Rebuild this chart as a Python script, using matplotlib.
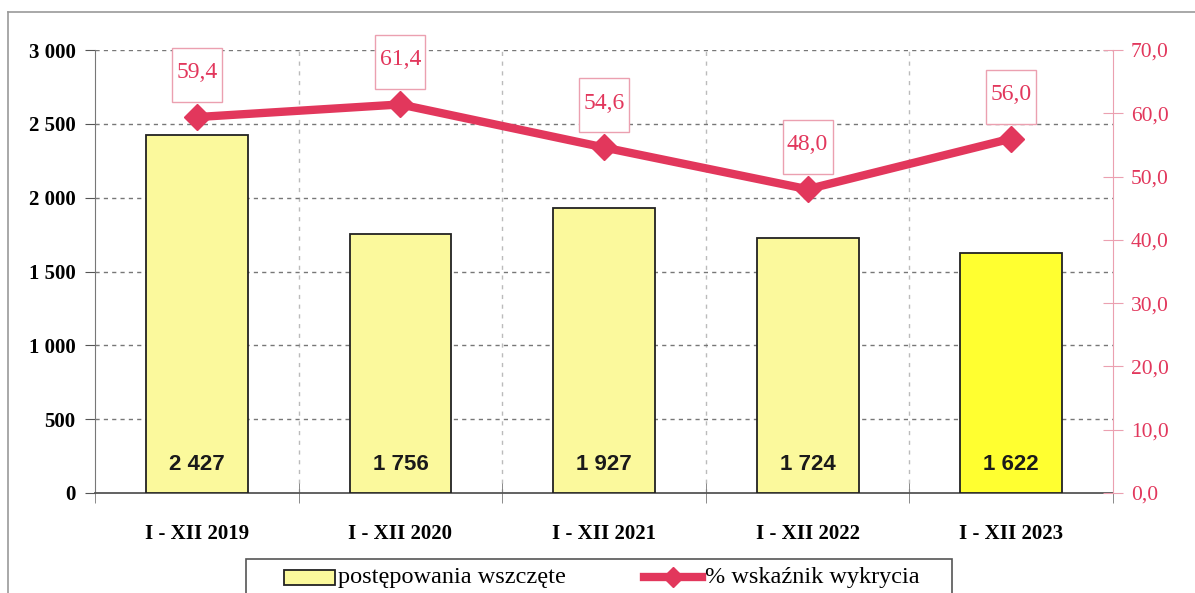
import matplotlib
matplotlib.use("Agg")
import matplotlib.pyplot as plt
from matplotlib.lines import Line2D
from matplotlib.patches import Rectangle
from matplotlib.transforms import ScaledTranslation
import numpy as np

categories = ["I - XII 2019", "I - XII 2020", "I - XII 2021", "I - XII 2022", "I - XII 2023"]
cases = [2427, 1756, 1927, 1724, 1622]
case_labels = ["2 427", "1 756", "1 927", "1 724", "1 622"]
detection = [59.4, 61.4, 54.6, 48.0, 56.0]
left_ticks = [0, 500, 1000, 1500, 2000, 2500, 3000]
left_labels = ["0", "500", "1 000", "1 500", "2 000", "2 500", "3 000"]
right_ticks = [0, 10, 20, 30, 40, 50, 60, 70]
legend_labels = ["postępowania wszczęte", "% wskaźnik wykrycia"]

RED = "#E2375C"
PINK = "#EBA0B0"
LIGHT_Y = "#FBF99C"
BRIGHT_Y = "#FFFF30"
SERIF = "Liberation Serif"
W, H = 1195, 593

fig = plt.figure(figsize=(W/100, H/100), dpi=100)
ax = fig.add_axes([95/W, 1-493/H, (1113-95)/W, (493-50)/H])
ax2 = ax.twinx()

x = np.arange(len(categories))
colors = [LIGHT_Y]*4 + [BRIGHT_Y]
ax.bar(x, cases, width=0.5, color=colors, edgecolor="#222222", linewidth=1.3, zorder=3)
for xi, lab in zip(x, case_labels):
    ax.text(xi, 190, lab, ha="center", va="center", fontsize=16, fontweight="bold",
            family="Liberation Sans", color="#1a1a1a", zorder=4)

ax.set_xlim(-0.5, len(categories)-0.5)
ax.set_ylim(0, 3000)
ax.set_yticks(left_ticks)
ax.set_yticklabels(left_labels, family=SERIF, fontsize=15, fontweight="bold")
ax.set_xticks(x)
ax.set_xticklabels(categories, family=SERIF, fontsize=15, fontweight="bold")
ax.tick_params(axis="x", length=0, pad=22)
ax.tick_params(axis="y", length=7, direction="out", color="#555555", pad=7)
bounds = np.arange(-0.5, len(categories), 1.0)
ax.set_xticks(bounds, minor=True)
ax.tick_params(axis="x", which="minor", length=14, direction="inout", color="#777777")
for b in bounds[1:-1]:
    ax.axvline(b, color="#bbbbbb", linestyle=(0, (3, 4)), linewidth=1.0, zorder=1)
for t in left_ticks[1:]:
    ax.axhline(t, color="#777777", linestyle=(0, (3, 3)), linewidth=1.0, zorder=1)

ax.spines["top"].set_visible(False)
ax2.spines["top"].set_visible(False)
ax.spines["left"].set_color("#777777")
ax.spines["bottom"].set_color("#555555")
ax.spines["bottom"].set_linewidth(1.3)
ax.spines["right"].set_visible(False)
ax2.spines["left"].set_visible(False)
ax2.spines["bottom"].set_visible(False)
ax2.spines["right"].set_color(PINK)

ax2.plot(x, detection, color=RED, linewidth=6, marker="D", markersize=13, zorder=5)
ax2.set_ylim(0, 70)
ax2.set_yticks(right_ticks)
ax2.set_yticklabels([f"{v:.1f}".replace(".", ",") for v in right_ticks],
                    family=SERIF, fontsize=15.5, color=RED)
ax2.tick_params(axis="y", length=14, direction="inout", color=PINK, pad=6)
for xi, v in zip(x, detection):
    tr = fig.dpi_scale_trans + ScaledTranslation(xi, v, ax2.transData)
    ax2.add_artist(Rectangle((-0.25, 0.15), 0.5, 0.54, transform=tr, fc="white",
                             ec=PINK, lw=1.0, zorder=6, clip_on=False))
    ax2.annotate(f"{v:.1f}".replace(".", ","), (xi, v), xytext=(0, 32), textcoords="offset points",
                 ha="center", va="center", fontsize=17, family=SERIF, color=RED, zorder=7)

# outer frame
fig.add_artist(Line2D([8/W, 8/W], [-0.1, 1-12/H], transform=fig.transFigure, color="#999999", lw=1.2))
fig.add_artist(Line2D([8/W, 1.0], [1-12/H, 1-12/H], transform=fig.transFigure, color="#999999", lw=1.2))

# legend (drawn as figure artists to match the clipped legend box)
ly = 1-577/H
fig.add_artist(Rectangle((246/W, -0.1), (952-246)/W, (1-559/H)+0.1, transform=fig.transFigure,
                         fc="white", ec="#555555", lw=1.2))
fig.add_artist(Rectangle((284/W, 1-585/H), 51/W, 15/H, transform=fig.transFigure,
                         fc=LIGHT_Y, ec="#222222", lw=1.3))
fig.add_artist(Line2D([644/W, 702/W], [ly, ly], transform=fig.transFigure, color=RED, lw=6))
fig.add_artist(Line2D([673/W], [ly], transform=fig.transFigure, color=RED, marker="D", markersize=10))
fig.text(338/W, ly, legend_labels[0], ha="left", va="center", family=SERIF, fontsize=17.5)
fig.text(705/W, ly, legend_labels[1], ha="left", va="center", family=SERIF, fontsize=17.5)

fig.savefig("out.png", dpi=100)
